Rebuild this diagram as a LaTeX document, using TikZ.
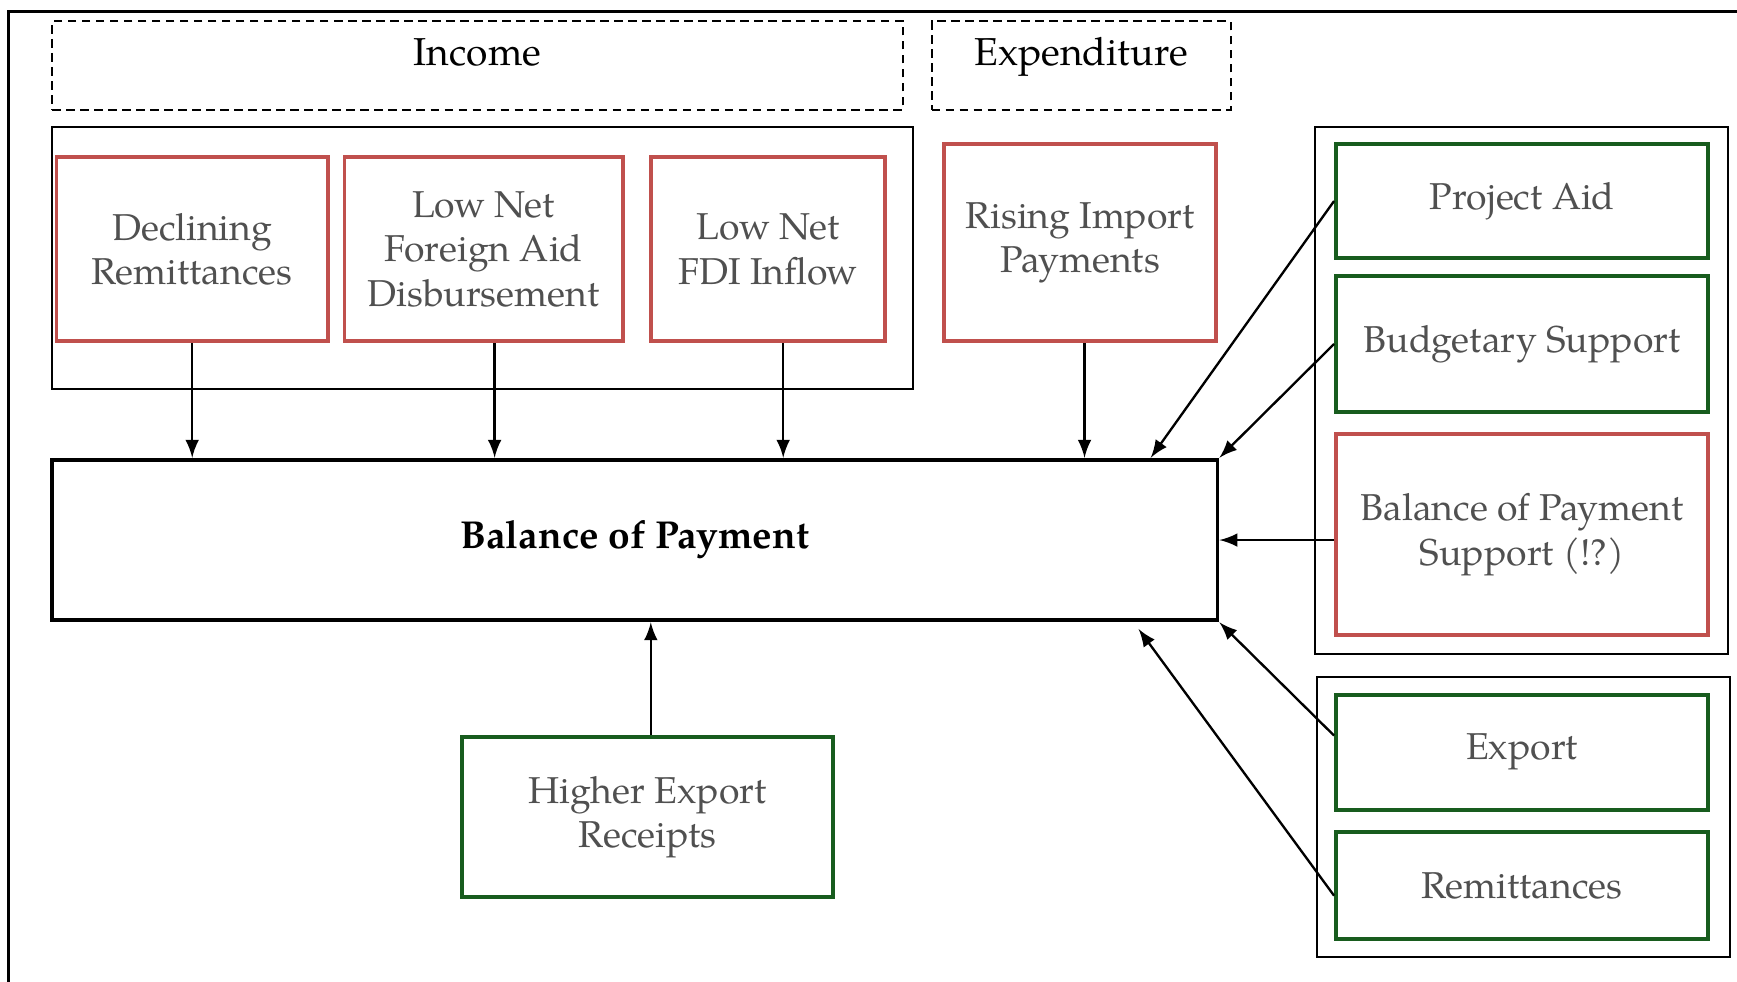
\documentclass[tikz,border=0pt]{standalone}
\usepackage{fontspec}
\setmainfont{TeX Gyre Pagella}
\usetikzlibrary{arrows}
\definecolor{boxred}{RGB}{192,80,77}
\definecolor{boxgreen}{RGB}{24,92,30}
\definecolor{textgray}{RGB}{80,80,80}
\tikzset{
  cause/.style={line width=1pt,text=textgray,align=center,inner sep=0pt,
    font=\fontsize{9.6}{11.4}\selectfont},
  redbox/.style={cause,draw=boxred},
  greenbox/.style={cause,draw=boxgreen},
  groupbox/.style={draw,line width=0.55pt,inner sep=0pt},
  headbox/.style={draw,line width=0.55pt,dash pattern=on 2.2pt off 1.4pt,inner sep=0pt,
    text height=2ex,text depth=2ex,font=\fontsize{10}{11.5}\selectfont},
  flow/.style={-latex,line width=0.6pt}
}
\begin{document}
\begin{tikzpicture}
\useasboundingbox(0,0)rectangle(15.68,-8.86);
%outer frame
\draw[line width=0.75pt](0.08,-0.10)rectangle(16.2,-9.4);
%headers
\node[headbox,minimum width=7.68cm,minimum height=0.80cm](inchead)at(4.31,-0.59){Income};
\node[headbox,minimum width=2.70cm,minimum height=0.80cm](exphead)at(9.76,-0.59){Expenditure};
%groups
\node[groupbox,minimum width=7.77cm,minimum height=2.36cm](incgroup)at(4.355,-2.33){};
\node[groupbox,minimum width=3.73cm,minimum height=4.75cm](aidgroup)at(13.735,-3.525){};
\node[groupbox,minimum width=3.73cm,minimum height=2.53cm](tradegroup)at(13.755,-7.375){};
%income side
\node[redbox,minimum width=2.45cm,minimum height=1.66cm](decl)at(1.735,-2.25){Declining\\Remittances};
\node[redbox,minimum width=2.51cm,minimum height=1.66cm](foreign)at(4.365,-2.25){Low Net\\Foreign Aid\\Disbursement};
\node[redbox,minimum width=2.11cm,minimum height=1.66cm](fdi)at(6.935,-2.25){Low Net\\FDI Inflow};
%expenditure side
\node[redbox,minimum width=2.46cm,minimum height=1.78cm](import)at(9.75,-2.19){Rising Import\\Payments};
%aid
\node[greenbox,minimum width=3.36cm,minimum height=1.03cm](project)at(13.74,-1.815){Project Aid};
\node[greenbox,minimum width=3.36cm,minimum height=1.23cm](budget)at(13.74,-3.105){Budgetary Support};
\node[redbox,minimum width=3.36cm,minimum height=1.81cm](bopsup)at(13.74,-4.825){Balance of Payment\\Support (!?)};
%trade
\node[greenbox,minimum width=3.36cm,minimum height=1.04cm](export)at(13.74,-6.79){Export};
\node[greenbox,minimum width=3.36cm,minimum height=0.97cm](remit)at(13.74,-7.995){Remittances};
%centre
\node[draw,line width=1pt,minimum width=10.52cm,minimum height=1.45cm,
  font=\fontsize{10}{11.5}\selectfont\bfseries](bop)at(5.73,-4.875){Balance of Payment};
\node[greenbox,minimum width=3.35cm,minimum height=1.45cm](higher)at(5.845,-7.375){Higher Export\\Receipts};
%arrows down
\draw[flow](decl.south)--(decl.south|-bop.north);
\draw[flow]([xshift=1mm]foreign.south)--([xshift=1mm]foreign.south|-bop.north);
\draw[flow]([xshift=1.35mm]fdi.south)--([xshift=1.35mm]fdi.south|-bop.north);
\draw[flow]([xshift=0.4mm]import.south)--([xshift=0.4mm]import.south|-bop.north);
%arrows from the right
\draw[flow](project.west)--([xshift=-6.2mm]bop.north east);
\draw[flow](budget.west)--(bop.north east);
\draw[flow](bopsup.west|-bop.east)--(bop.east);
\draw[flow]([yshift=1.5mm]export.west)--(bop.south east);
\draw[flow]([yshift=-0.9mm]remit.west)--([xshift=-7.3mm,yshift=-0.6mm]bop.south east);
%arrow up
\draw[flow]([xshift=0.3mm]higher.north)--([xshift=0.3mm]higher.north|-bop.south);
\end{tikzpicture}
\end{document}
